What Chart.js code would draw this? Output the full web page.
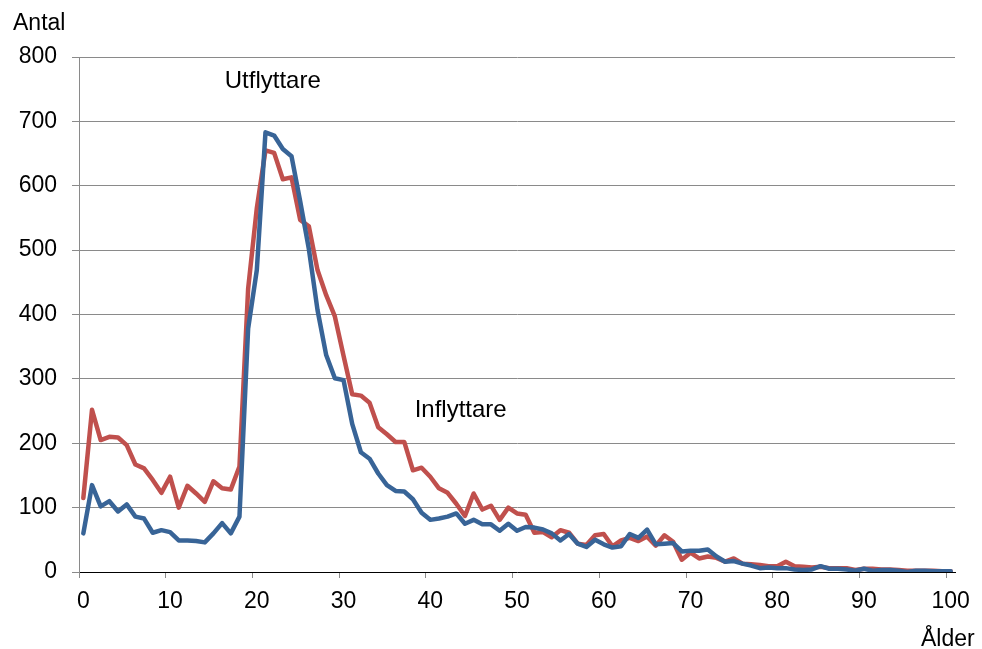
<!DOCTYPE html>
<html>
<head>
<meta charset="utf-8">
<script src="https://cdn.jsdelivr.net/npm/chart.js@4/dist/chart.umd.min.js"></script>
<style>
  html, body { margin: 0; padding: 0; background: #fff; }
  #wrap { width: 982px; height: 649px; }
</style>
</head>
<body>
<div id="wrap"><canvas id="flyttChart" width="982" height="649"></canvas></div>
<script>
// ===== Inflyttare och utflyttare per ålder =====

const ages = Array.from({ length: 101 }, (_, i) => i);

const inflyttare = [
    115, 252, 205, 210, 209, 197, 167, 161, 143, 123,
    148, 100, 134, 122, 109, 141, 130, 128, 164, 440,
    565, 655, 651, 610, 613, 547, 537, 469, 430, 397,
    336, 276, 274, 263, 225, 214, 202, 202, 158, 162,
    148, 130, 123, 106, 87, 122, 97, 103, 81, 100,
    91, 89, 61, 62, 54, 65, 61, 44, 42, 57,
    59, 40, 49, 53, 48, 55, 41, 57, 47, 19,
    30, 21, 24, 22, 16, 21, 13, 12, 11, 9,
    9, 16, 9, 8, 7, 8, 6, 6, 6, 3,
    5, 5, 4, 4, 3, 2, 2, 2, 2, 1, 1
];

const utflyttare = [
    60, 135, 102, 110, 94, 105, 86, 83, 61, 65,
    62, 49, 49, 48, 46, 60, 76, 60, 86, 378,
    469, 683, 678, 657, 646, 576, 502, 407, 337, 301,
    298, 230, 186, 176, 153, 135, 126, 125, 113, 92,
    81, 83, 86, 91, 75, 81, 74, 74, 64, 75,
    64, 70, 69, 66, 60, 49, 59, 44, 39, 50,
    43, 38, 40, 59, 53, 66, 43, 44, 45, 32,
    33, 33, 35, 24, 16, 17, 13, 10, 6, 7,
    6, 6, 4, 3, 4, 9, 5, 5, 4, 2,
    5, 2, 3, 3, 2, 0, 2, 2, 1, 1, 1
];

const xTicks = [0, 10, 20, 30, 40, 50, 60, 70, 80, 90, 100];
const yTicks = [0, 100, 200, 300, 400, 500, 600, 700, 800];

const FONT = 'Arial, "Liberation Sans", sans-serif';
const GRID = '#8a8a8a';

// ålder i ritas mitt i sin kategori (i + 0.5), som i Excel
const toPoints = arr => arr.map((v, i) => ({ x: ages[i] + 0.5, y: v }));

// texter: axelrubriker och serienamn
const textPlugin = {
    id: 'texter',
    afterDraw(chart) {
        const { ctx, scales: { x, y } } = chart;
        ctx.save();
        ctx.fillStyle = '#000';
        ctx.textBaseline = 'alphabetic';
        ctx.textAlign = 'left';
        ctx.font = '23px ' + FONT;
        ctx.fillText('Antal', 13, 30);
        ctx.fillText('Ålder', 921, 646);
        ctx.font = '24px ' + FONT;
        ctx.fillText('Utflyttare', x.getPixelForValue(16.8), y.getPixelForValue(752));
        ctx.fillText('Inflyttare', x.getPixelForValue(38.7), y.getPixelForValue(241));
        ctx.restore();
    }
};

new Chart(document.getElementById('flyttChart').getContext('2d'), {
    type: 'line',
    data: {
        datasets: [
            { label: 'Inflyttare', data: toPoints(inflyttare), order: 1, borderColor: '#c0504d', borderWidth: 4.5, pointRadius: 0, tension: 0, borderJoinStyle: 'round', borderCapStyle: 'round' },
            { label: 'Utflyttare', data: toPoints(utflyttare), order: 0, borderColor: '#386497', borderWidth: 4.5, pointRadius: 0, tension: 0, borderJoinStyle: 'round', borderCapStyle: 'round' }
        ]
    },
    options: {
        responsive: false,
        animation: false,
        layout: { padding: { left: 0, right: 27, top: 57, bottom: 0 } },
        plugins: { legend: { display: false }, tooltip: { enabled: false } },
        scales: {
            x: {
                type: 'linear', min: 0, max: 101,
                afterBuildTicks: s => { s.ticks = xTicks.map(v => ({ value: v })); },
                afterFit: s => { s.height = 77; },
                grid: { drawOnChartArea: false, tickLength: 6, tickColor: GRID, lineWidth: 1 },
                border: { color: '#000', width: 1 },
                ticks: { autoSkip: false, maxRotation: 0, labelOffset: 4.3, padding: 10, color: '#000', font: { family: FONT, size: 23 } }
            },
            y: {
                min: 0, max: 800,
                afterBuildTicks: s => { s.ticks = yTicks.map(v => ({ value: v })); },
                afterFit: s => { s.width = 79; },
                grid: { color: c => (c.tick && c.tick.value === 0 ? 'rgba(0,0,0,0)' : GRID), tickLength: 7, tickColor: GRID, lineWidth: 1 },
                border: { color: GRID, width: 1 },
                ticks: { padding: 15, color: '#000', font: { family: FONT, size: 23 } }
            }
        }
    },
    plugins: [textPlugin]
});
</script>
</body>
</html>
